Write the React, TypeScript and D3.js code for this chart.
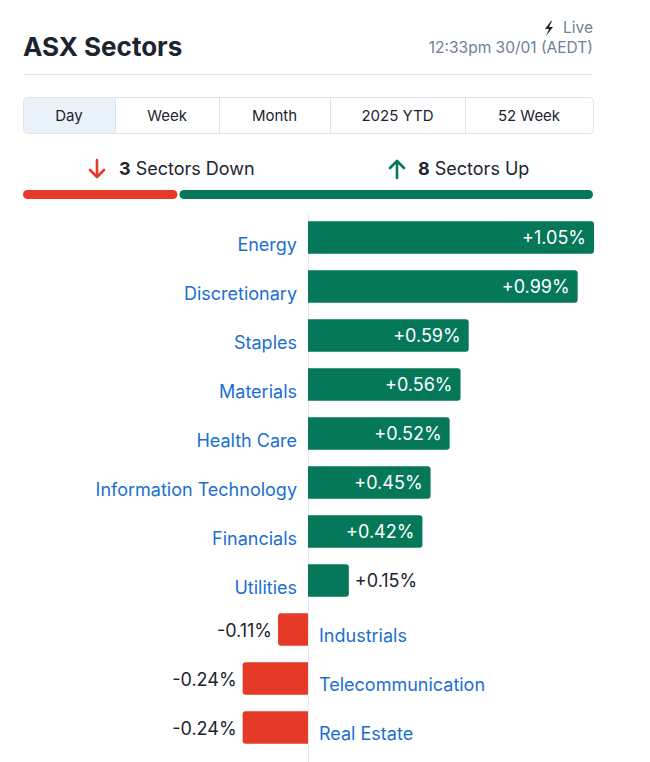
import { useEffect, useRef } from 'react';
import * as d3 from 'd3';

const sectors = [
    'Energy',
    'Discretionary',
    'Staples',
    'Materials',
    'Health Care',
    'Information Technology',
    'Financials',
    'Utilities',
    'Industrials',
    'Telecommunication',
    'Real Estate',
];
const changes = [1.05, 0.99, 0.59, 0.56, 0.52, 0.45, 0.42, 0.15, -0.11, -0.24, -0.24];
const tabs = ['Day', 'Week', 'Month', '2025 YTD', '52 Week'];
const tabEdges = [23, 115, 219, 330, 465, 593];

const width = 650;
const height = 762;
const GREEN = '#06785a';
const RED = '#e53a28';
const BLUE = '#1b6fd1';
const DARK = '#1c2430';
const FONT = 'Inter, "Noto Sans", sans-serif';

const App = () => {
    const svgRef = useRef<SVGSVGElement>(null);

    useEffect(() => {
        document.body.style.margin = '0';
        d3.select(svgRef.current).selectAll('*').remove();
        const svg = d3
            .select(svgRef.current)
            .attr('width', width)
            .attr('height', height)
            .style('font-family', FONT);

        // header
        svg.append('text')
            .attr('x', 23)
            .attr('y', 56)
            .attr('font-size', 26)
            .attr('font-weight', 700)
            .attr('fill', DARK)
            .text('ASX Sectors');

        svg.append('text')
            .attr('x', 593)
            .attr('y', 33)
            .attr('text-anchor', 'end')
            .attr('font-size', 15.5)
            .attr('fill', '#6f8196')
            .text('Live');
        svg.append('path')
            .attr('d', 'M551,21 L545,29 L549,29 L546,36 L553,27 L549,27 L552,21 Z')
            .attr('fill', DARK);
        svg.append('text')
            .attr('x', 593)
            .attr('y', 53)
            .attr('text-anchor', 'end')
            .attr('font-size', 15.5)
            .attr('fill', '#6f8196')
            .text('12:33pm 30/01 (AEDT)');

        svg.append('line')
            .attr('x1', 23)
            .attr('x2', 593)
            .attr('y1', 74.5)
            .attr('y2', 74.5)
            .attr('stroke', '#dfe5ec');

        // tabs
        const tabG = svg.append('g');
        tabG.append('rect')
            .attr('x', 23.5)
            .attr('y', 97.5)
            .attr('width', 570)
            .attr('height', 36)
            .attr('rx', 4)
            .attr('fill', '#fff')
            .attr('stroke', '#dde4ec');
        tabG.append('path')
            .attr('d', `M${tabEdges[1]},98 L27.5,98 Q24,98 24,101.5 L24,129.5 Q24,133 27.5,133 L${tabEdges[1]},133 Z`)
            .attr('fill', '#e9f1f9');
        tabs.forEach((t, i) => {
            if (i > 0) {
                tabG.append('line')
                    .attr('x1', tabEdges[i] + 0.5)
                    .attr('x2', tabEdges[i] + 0.5)
                    .attr('y1', 98)
                    .attr('y2', 133)
                    .attr('stroke', '#dde4ec');
            }
            tabG.append('text')
                .attr('x', (tabEdges[i] + tabEdges[i + 1]) / 2)
                .attr('y', 121)
                .attr('text-anchor', 'middle')
                .attr('font-size', 15)
                .attr('fill', DARK)
                .text(t);
        });

        // summary
        const down = changes.filter(d => d < 0).length;
        const up = changes.filter(d => d > 0).length;
        const down_t = svg.append('text')
            .attr('x', 119)
            .attr('y', 175)
            .attr('font-size', 18)
            .attr('fill', DARK);
        down_t.append('tspan').attr('font-weight', 700).text(String(down));
        down_t.append('tspan').text(' Sectors Down');
        svg.append('path')
            .attr('d', 'M97,160 L97,177 M90,170 L97,177 L104,170')
            .attr('stroke', RED)
            .attr('stroke-width', 2.6)
            .attr('fill', 'none')
            .attr('stroke-linecap', 'round')
            .attr('stroke-linejoin', 'round');
        const up_t = svg.append('text')
            .attr('x', 418)
            .attr('y', 175)
            .attr('font-size', 18)
            .attr('fill', DARK);
        up_t.append('tspan').attr('font-weight', 700).text(String(up));
        up_t.append('tspan').text(' Sectors Up');
        svg.append('path')
            .attr('d', 'M397,178 L397,161 M390,168 L397,161 L404,168')
            .attr('stroke', GREEN)
            .attr('stroke-width', 2.6)
            .attr('fill', 'none')
            .attr('stroke-linecap', 'round')
            .attr('stroke-linejoin', 'round');

        const split = d3.scaleLinear().domain([0, changes.length]).range([23, 593]);
        svg.append('rect')
            .attr('x', split(0))
            .attr('y', 190)
            .attr('width', split(down) - split(0) - 1)
            .attr('height', 9)
            .attr('rx', 4.5)
            .attr('fill', RED);
        svg.append('rect')
            .attr('x', split(down) + 1)
            .attr('y', 190)
            .attr('width', split(changes.length) - split(down) - 1)
            .attr('height', 9)
            .attr('rx', 4.5)
            .attr('fill', GREEN);

        // bars
        const x = d3.scaleLinear().domain([0, 1.05]).range([308, 594]);
        const y = d3
            .scaleBand()
            .domain(sectors)
            .range([213, 752])
            .paddingInner(0.34)
            .paddingOuter(0.17);

        svg.append('line')
            .attr('x1', x(0) + 0.5)
            .attr('x2', x(0) + 0.5)
            .attr('y1', 214)
            .attr('y2', height)
            .attr('stroke', '#e4e8ee');

        const r = 3;
        const barPath = (v: number, y0: number, h: number) => {
            const x0 = x(0);
            const x1 = x(v);
            const s = v >= 0 ? 1 : -1;
            return `M${x0},${y0} L${x1 - s * r},${y0} Q${x1},${y0} ${x1},${y0 + r} L${x1},${y0 + h - r} Q${x1},${y0 + h} ${x1 - s * r},${y0 + h} L${x0},${y0 + h} Z`;
        };

        const fmt = (v: number) => (v > 0 ? '+' : '') + v.toFixed(2) + '%';

        sectors.forEach((name, i) => {
            const v = changes[i];
            const y0 = y(name) ?? 0;
            const h = y.bandwidth();
            const cy = y0 + h / 2;
            svg.append('path')
                .attr('d', barPath(v, y0, h))
                .attr('fill', v >= 0 ? GREEN : RED);

            svg.append('text')
                .attr('x', v >= 0 ? x(0) - 11 : x(0) + 11)
                .attr('y', v >= 0 ? cy + 13.5 : cy + 12)
                .attr('text-anchor', v >= 0 ? 'end' : 'start')
                .attr('font-size', 18)
                .attr('fill', BLUE)
                .text(name);

            const barW = Math.abs(x(v) - x(0));
            const inside = v >= 0 && barW > 90;
            svg.append('text')
                .attr('x', v >= 0 ? (inside ? x(v) - 8 : x(v) + 6) : x(v) - 6)
                .attr('y', v >= 0 ? cy + 6.5 : cy + 7)
                .attr('text-anchor', v >= 0 ? (inside ? 'end' : 'start') : 'end')
                .attr('font-size', 18)
                .attr('fill', inside ? '#fff' : DARK)
                .text(fmt(v));
        });
    }, []);

    return <svg ref={svgRef} style={{ display: 'block' }}></svg>;
};

export default App;
